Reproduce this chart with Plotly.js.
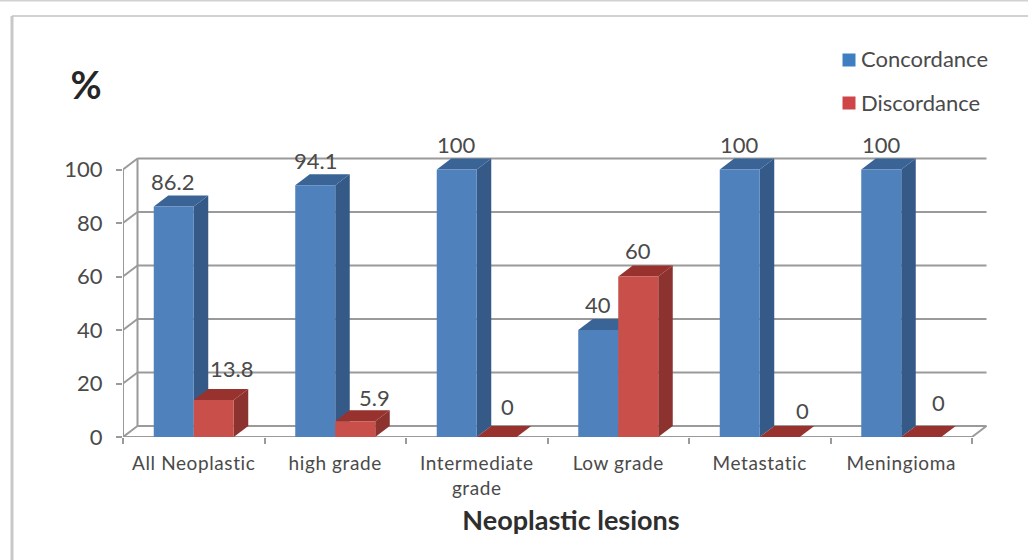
<!DOCTYPE html>
<html>
<head>
<meta charset="utf-8">
<script src="https://cdn.plot.ly/plotly-3.0.1.min.js"></script>
<style>html,body{margin:0;padding:0;background:#fff}#chart{width:1028px;height:560px}
.xtick text{letter-spacing:.6px}</style>
</head>
<body>
<div id="chart"></div>
<script>
var categories = ["All Neoplastic", "high grade", "Intermediate<br>grade", "Low grade", "Metastatic", "Meningioma"];
var concordance = [86.2, 94.1, 100, 40, 100, 100];
var discordance = [13.8, 5.9, 0, 60, 0, 0];
var seriesNames = ["Concordance", "Discordance"];
var yTicks = [0, 20, 40, 60, 80, 100];

var W = 1028, H = 560;
var left = 123, right = 1019, top_ = 150, bottom = 437;
var catPx = 141.5, unitPx = 2.675, depthX = 14.5 / catPx, depthY = 11 / unitPx;
var barW = 40 / catPx;
var gray = "#9a9a9a", textCol = "#4a4a4a";
var blue = {front: "#4f81bd", side: "#355a88", top: "#3a6496"};
var red = {front: "#c9504a", side: "#8c3330", top: "#97322f"};
function px(x) { return (x - left) / (right - left); }
function py(y) { return (bottom - y) / (bottom - top_); }

var shapes = [];
function line(x0, y0, x1, y1, w) {
  shapes.push({type: "line", xref: "x", yref: "y", x0: x0, y0: y0, x1: x1, y1: y1, layer: "below",
    line: {color: gray, width: w || 2}});
}
function poly(points, color) {
  var d = points.map(function (p, i) { return (i ? "L" : "M") + p[0] + "," + p[1]; }).join("") + "Z";
  shapes.push({type: "path", xref: "x", yref: "y", path: d, layer: "below", fillcolor: color, line: {width: 0}});
}
function frame(x0, y0, x1, y1, color, w) {
  shapes.push({type: "line", xref: "paper", yref: "paper", x0: px(x0), x1: px(x1), y0: py(y0), y1: py(y1), layer: "below", line: {color: color, width: w}});
}
// chart frame
frame(0, 0, W, 0, "#d2d2d2", 3);
frame(12, 16, W, 16, "#d2d2d2", 2);
frame(12, 16, 12, H, "#c8c8c8", 3);
// walls and gridlines
yTicks.forEach(function (v) {
  line(-0.5, v, -0.5 + depthX, v + depthY);
  line(-0.5 + depthX, v + depthY, 5.5 + depthX, v + depthY);
});
line(-0.5, 0, -0.5, 100);
line(-0.5 + depthX, depthY, -0.5 + depthX, 100 + depthY);
line(-0.5, 0, 5.5, 0);
line(5.5, 0, 5.5 + depthX, depthY);
// 3-D faces of the bars, derived from the values
function faces(values, sign, c) {
  values.forEach(function (v, i) {
    var x0 = i + (sign < 0 ? -barW : 0), x1 = x0 + barW;
    if (v > 0) poly([[x1, 0], [x1 + depthX, depthY], [x1 + depthX, v + depthY], [x1, v]], c.side);
    poly([[x0, v], [x0 + depthX, v + depthY], [x1 + depthX, v + depthY], [x1, v]], c.top);
  });
}
faces(concordance, -1, blue);
faces(discordance, 1, red);

var annotations = [];
var blueDx = [-1, 0, 0, 0, 0, 0], blueDy = [25, 25, 25, 26, 25, 25];
var redDx = [18, 19, 11, 0, 23, 17], redDy = [32, 24, 31, 26, 27, 35];
function labels(values, sign, dx, dy) {
  values.forEach(function (v, i) {
    annotations.push({x: i + sign * barW / 2, y: v, xref: "x", yref: "y", text: String(v), showarrow: false,
      xanchor: "center", yanchor: "middle", xshift: dx[i], yshift: dy[i],
      font: {family: "Lato", size: 22, color: textCol}});
  });
}
labels(concordance, -1, blueDx, blueDy);
labels(discordance, 1, redDx, redDy);

// legend
[[59, "#3f7fc1"], [102, "#cf4648"]].forEach(function (row, i) {
  var y = row[0];
  shapes.push({type: "rect", xref: "paper", yref: "paper", layer: "above", fillcolor: row[1], line: {width: 0},
    x0: px(842.5), x1: px(855.5), y0: py(y + 7.5), y1: py(y - 5.5)});
  annotations.push({xref: "paper", yref: "paper", x: px(859), y: py(y),
    text: seriesNames[i], showarrow: false, xanchor: "left", yanchor: "middle",
    font: {family: "Lato", size: 22, color: textCol}});
});

var traces = [
  {type: "bar", name: seriesNames[0], x: categories, y: concordance, marker: {color: blue.front}, hoverinfo: "x+y+name"},
  {type: "bar", name: seriesNames[1], x: categories, y: discordance, marker: {color: red.front}, hoverinfo: "x+y+name"}
];

var layout = {
  width: W, height: H, autosize: false,
  paper_bgcolor: "#fff", plot_bgcolor: "rgba(0,0,0,0)",
  margin: {l: left, r: W - right, t: top_, b: H - bottom, pad: 0},
  barmode: "group", bargap: 1 - 2 * barW, bargroupgap: 0,
  showlegend: false,
  title: {text: "<b>%</b>", xref: "container", yref: "container", x: 86 / W, xanchor: "center", y: 1 - 86 / H, yanchor: "middle",
    font: {family: "Lato", size: 38, color: "#262626"}},
  xaxis: {type: "category", range: [-0.5, 5.5 + (right - left - 849) / catPx], tickson: "boundaries", ticks: "outside", ticklen: 6, tickwidth: 1.5,
    tickcolor: gray, showgrid: false, showline: false, zeroline: false, automargin: false, tickangle: 0, ticklabelstandoff: 13,
    tickfont: {family: "Lato", size: 19, color: textCol},
    title: {text: "<b>Neoplastic lesions</b>", standoff: 13, font: {family: "Lato", size: 27, color: "#2e2e2e"}}},
  yaxis: {range: [0, (bottom - top_) / unitPx], tickmode: "array", tickvals: yTicks, ticks: "outside", ticklen: 6, tickwidth: 1.5,
    tickcolor: gray, showgrid: false, showline: false, zeroline: false, automargin: false, ticklabelstandoff: 9,
    tickfont: {family: "Lato", size: 22, color: textCol}},
  shapes: shapes, annotations: annotations
};
Plotly.newPlot("chart", traces, layout, {displayModeBar: false, responsive: false});
</script>
</body>
</html>
